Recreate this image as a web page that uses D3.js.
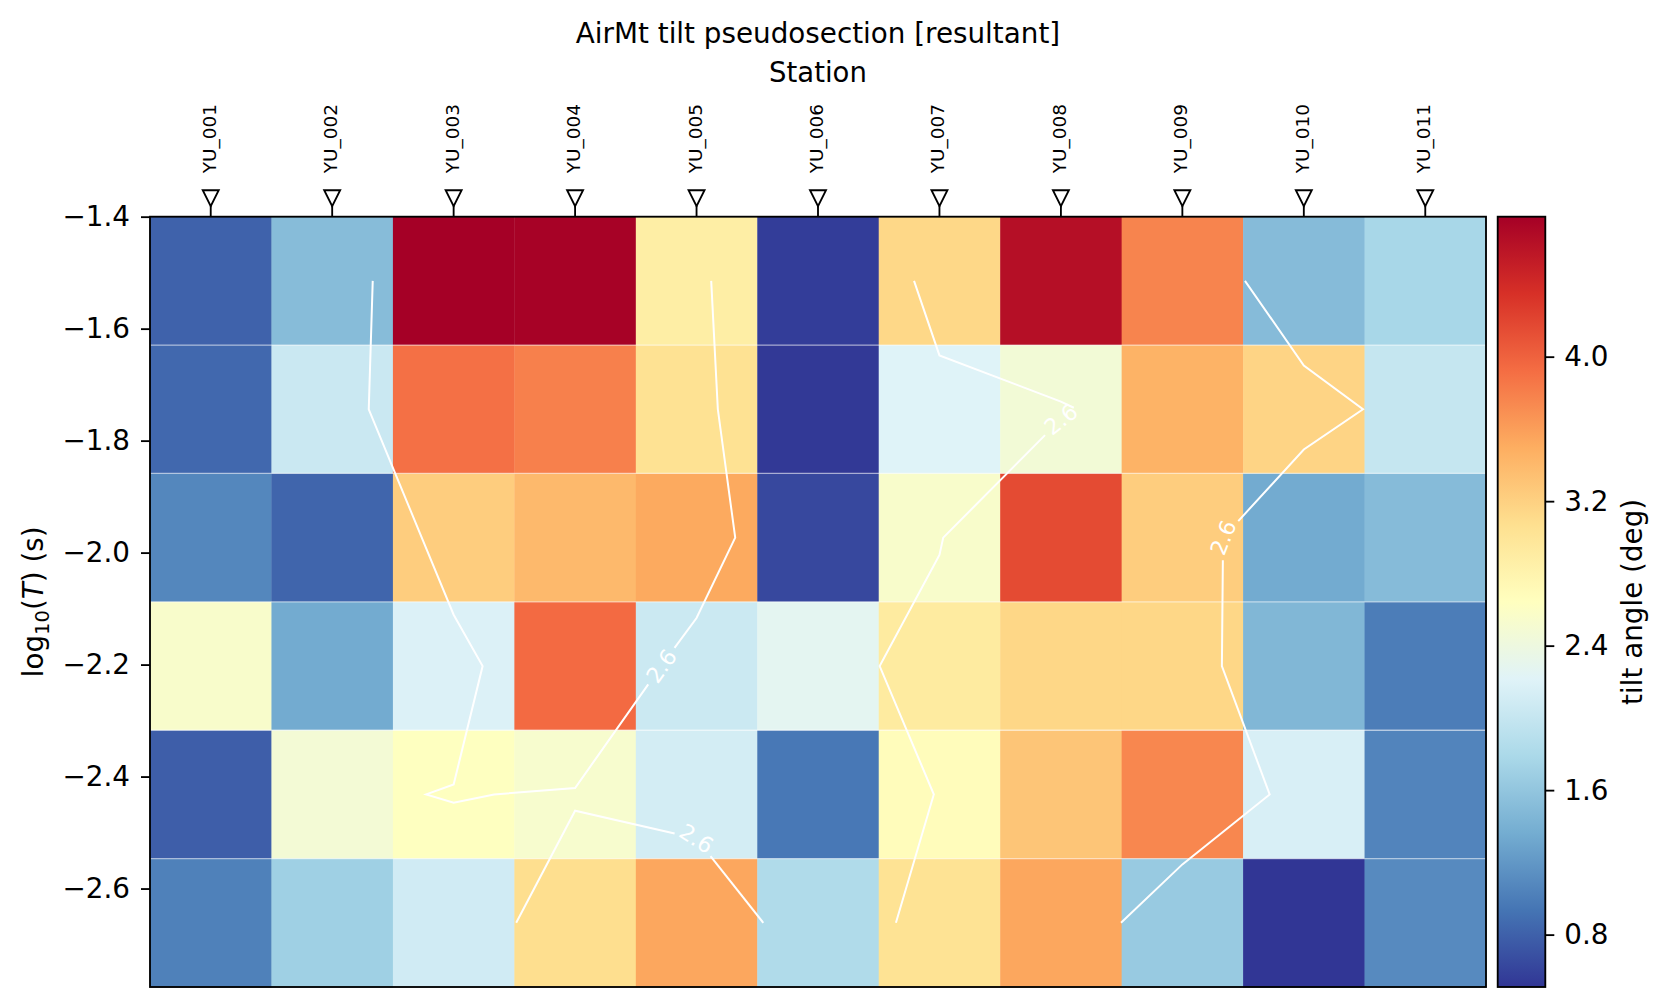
<!DOCTYPE html>
<html lang="en">
<head>
<meta charset="utf-8">
<title>AirMt tilt pseudosection</title>
<script src="https://cdn.jsdelivr.net/npm/d3@7"></script>
<style>
    body { margin: 0; background: #fff; }
    svg text { font-family: "DejaVu Sans", sans-serif; }
</style>
</head>
<body>
<div id="chart"></div>
<script>
    // stations along the profile
    const stations = ['YU_001', 'YU_002', 'YU_003', 'YU_004', 'YU_005', 'YU_006',
                      'YU_007', 'YU_008', 'YU_009', 'YU_010', 'YU_011'];

    // log10 of period at the centre of each row, top row first
    const logPeriod = [-1.5147, -1.7440, -1.9733, -2.2026, -2.4319, -2.6612];

    // tilt angle (deg), one array per period row, stations left to right
    const tilt_T1 = [0.81, 1.51, 4.775, 4.76, 2.88, 0.56, 3.14, 4.64, 3.77, 1.50, 1.77];
    const tilt_T2 = [0.85, 2.04, 3.90, 3.80, 3.04, 0.53, 2.21, 2.47, 3.45, 3.17, 2.00];
    const tilt_T3 = [1.07, 0.83, 3.23, 3.40, 3.52, 0.63, 2.55, 4.16, 3.23, 1.35, 1.50];
    const tilt_T4 = [2.55, 1.35, 2.18, 3.94, 2.05, 2.27, 2.92, 3.15, 3.15, 1.46, 1.00];
    const tilt_T5 = [0.78, 2.48, 2.635, 2.53, 2.11, 0.96, 2.68, 3.30, 3.75, 2.15, 1.05];
    const tilt_T6 = [1.03, 1.70, 2.09, 3.08, 3.54, 1.83, 3.03, 3.54, 1.64, 0.51, 1.10];
    const tiltRows = [tilt_T1, tilt_T2, tilt_T3, tilt_T4, tilt_T5, tilt_T6];

    const contourLevels = [2.6];
    const yTicks = [-1.4, -1.6, -1.8, -2.0, -2.2, -2.4, -2.6];
    const cbarTicks = [0.8, 1.6, 2.4, 3.2, 4.0];

    // RdYlBu reversed (blue -> red)
    const cmap = ['#313695', '#4575b4', '#74add1', '#abd9e9', '#e0f3f8', '#ffffbf',
                  '#fee090', '#fdae61', '#f46d43', '#d73027', '#a50026'];

    // figure layout
    const width = 1667, height = 1007;
    const margin = {top: 216.7, right: 181, bottom: 20, left: 150};
    const plotL = margin.left, plotR = width - margin.right;
    const plotT = margin.top, plotB = height - margin.bottom;
    const cbarL = 1497.7, cbarR = 1545.3;
    const tickFont = 27.8;

    const svg = d3.select("#chart")
        .append("svg")
            .attr("width", width)
            .attr("height", height);

    // scales
    const x = d3.scaleLinear()
        .domain([-0.5, stations.length - 0.5])
        .range([plotL, plotR]);

    const nr = logPeriod.length;
    const yTop = logPeriod[0] + (logPeriod[0] - logPeriod[1]) / 2;
    const yBot = logPeriod[nr - 1] - (logPeriod[nr - 2] - logPeriod[nr - 1]) / 2;
    const yEdges = [yTop];
    for (let j = 0; j < nr - 1; j++) yEdges.push((logPeriod[j] + logPeriod[j + 1]) / 2);
    yEdges.push(yBot);

    const y = d3.scaleLinear()
        .domain([yBot, yTop])
        .range([plotB, plotT]);

    const [vmin, vmax] = d3.extent(tiltRows.flat());
    const color = d3.scaleLinear()
        .domain(cmap.map((c, k) => vmin + k / (cmap.length - 1) * (vmax - vmin)))
        .range(cmap)
        .interpolate(d3.interpolateRgb);

    // pcolormesh cells
    const cells = [];
    tiltRows.forEach((row, j) => row.forEach((v, i) => cells.push({i, j, v})));

    svg.append("g")
        .selectAll("rect")
        .data(cells)
        .enter()
        .append("rect")
            .attr("x", d => x(d.i - 0.5))
            .attr("y", d => y(yEdges[d.j]))
            .attr("width", d => x(d.i + 0.5) - x(d.i - 0.5) + 0.4)
            .attr("height", d => y(yEdges[d.j + 1]) - y(yEdges[d.j]) + 0.4)
            .attr("fill", d => color(d.v));

    // faint lines between period rows
    svg.append("g")
        .selectAll("line")
        .data(yEdges.slice(1, -1))
        .enter()
        .append("line")
            .attr("x1", plotL).attr("x2", plotR)
            .attr("y1", d => y(d)).attr("y2", d => y(d))
            .attr("stroke", "#fff")
            .attr("stroke-opacity", 0.55)
            .attr("stroke-width", 1.3);

    // marching squares on the cell centres, lines oriented with high values on the right
    function contourLines(z, level) {
        const rows = z.length, cols = z[0].length;
        const edgePt = (kind, i, j) => {
            const v1 = z[j][i];
            const v2 = kind === 'h' ? z[j][i + 1] : z[j + 1][i];
            const t = (level - v1) / (v2 - v1);
            return kind === 'h' ? {key: 'h' + i + ',' + j, c: i + t, r: j}
                                : {key: 'v' + i + ',' + j, c: i, r: j + t};
        };
        const segs = [];
        for (let j = 0; j < rows - 1; j++) {
            for (let i = 0; i < cols - 1; i++) {
                const corner = [z[j][i], z[j][i + 1], z[j + 1][i + 1], z[j + 1][i]];
                const hi = corner.map(v => v > level);
                const edges = [['h', i, j], ['v', i + 1, j], ['h', i, j + 1], ['v', i, j]];
                const cross = [];
                for (let e = 0; e < 4; e++) {
                    const a = hi[e], b = hi[(e + 1) % 4];
                    if (a !== b) cross.push({e, type: a ? 'out' : 'in', p: edgePt(...edges[e])});
                }
                if (cross.length === 2) {
                    const o = cross.find(c => c.type === 'out'), n = cross.find(c => c.type === 'in');
                    segs.push({a: o.p, b: n.p});
                } else if (cross.length === 4) {
                    const mid = d3.mean(corner) > level;
                    cross.forEach((c, k) => {
                        if (c.type !== 'out') return;
                        const n = mid ? cross[(k + 1) % 4] : cross[(k + 3) % 4];
                        segs.push({a: c.p, b: n.p});
                    });
                }
            }
        }
        // chain the segments into paths
        const byStart = new Map(segs.map(s => [s.a.key, s]));
        const ends = new Set(segs.map(s => s.b.key));
        const used = new Set();
        const paths = [];
        const trace = s => {
            const pts = [s.a];
            let cur = s;
            while (cur && !used.has(cur)) {
                used.add(cur);
                pts.push(cur.b);
                cur = byStart.get(cur.b.key);
            }
            paths.push(pts);
        };
        segs.forEach(s => { if (!ends.has(s.a.key) && !used.has(s)) trace(s); });
        segs.forEach(s => { if (!used.has(s)) trace(s); });
        return paths;
    }

    const rowToLog = r => {
        const j0 = Math.min(Math.floor(r), nr - 2);
        return logPeriod[j0] + (r - j0) * (logPeriod[j0 + 1] - logPeriod[j0]);
    };

    // pick the straightest block of the path for the label
    function locateLabel(pts, lw) {
        const n = pts.length;
        const nBlocks = lw > 1 ? Math.ceil(n / lw) : 1;
        const bs = nBlocks === 1 ? n : Math.floor(lw);
        const hb = Math.floor(bs / 2);
        let best = hb % n, bestD = Infinity;
        for (let b = 0; b < nBlocks; b++) {
            const at = k => pts[(b * bs + k) % n];
            const f = at(0), l = at(bs - 1);
            const len = Math.hypot(l[0] - f[0], l[1] - f[1]);
            let dist = 0;
            for (let k = 0; k < bs; k++) {
                const p = at(k);
                dist += Math.abs((f[1] - p[1]) * (l[0] - f[0]) - (f[0] - p[0]) * (l[1] - f[1])) / len;
            }
            if (!isFinite(dist)) dist = Infinity;
            if (dist < bestD) { bestD = dist; best = (b * bs + hb) % n; }
        }
        return best;
    }

    function pointAt(pts, cum, s) {
        s = Math.max(0, Math.min(cum[cum.length - 1], s));
        let k = 1;
        while (k < cum.length - 1 && cum[k] < s) k++;
        const t = (s - cum[k - 1]) / ((cum[k] - cum[k - 1]) || 1);
        return [pts[k - 1][0] + t * (pts[k][0] - pts[k - 1][0]),
                pts[k - 1][1] + t * (pts[k][1] - pts[k - 1][1])];
    }

    function slicePath(pts, cum, s0, s1) {
        const out = [pointAt(pts, cum, s0)];
        for (let k = 0; k < pts.length; k++) if (cum[k] > s0 && cum[k] < s1) out.push(pts[k]);
        out.push(pointAt(pts, cum, s1));
        return out;
    }

    const labelFont = 22;
    const probe = svg.append("text").attr("font-size", labelFont).text("2.6");
    const contourG = svg.append("g");
    const line = d3.line();

    contourLevels.forEach(level => {
        const txt = d3.format(".1f")(level);
        probe.text(txt);
        const textW = probe.node().getComputedTextLength();
        const half = textW / 2 + 5;

        contourLines(tiltRows, level).forEach(path => {
            const pts = path.map(p => [x(p.c), y(rowToLog(p.r))]);
            const cum = [0];
            for (let k = 1; k < pts.length; k++)
                cum.push(cum[k - 1] + Math.hypot(pts[k][0] - pts[k - 1][0], pts[k][1] - pts[k - 1][1]));
            const total = cum[cum.length - 1];

            const idx = locateLabel(pts, 13);
            const s0 = cum[idx];
            const pA = pointAt(pts, cum, s0 - textW / 2), pB = pointAt(pts, cum, s0 + textW / 2);
            let ang = Math.atan2(pB[1] - pA[1], pB[0] - pA[0]) * 180 / Math.PI;
            if (ang > 90) ang -= 180;
            if (ang < -90) ang += 180;

            const pieces = [];
            if (s0 - half > 0) pieces.push(slicePath(pts, cum, 0, s0 - half));
            if (s0 + half < total) pieces.push(slicePath(pts, cum, s0 + half, total));

            contourG.selectAll(null)
                .data(pieces)
                .enter()
                .append("path")
                    .attr("d", line)
                    .attr("fill", "none")
                    .attr("stroke", "#fff")
                    .attr("stroke-width", 2)
                    .attr("stroke-linejoin", "miter");

            contourG.append("text")
                .attr("transform", `translate(${pts[idx][0]},${pts[idx][1]}) rotate(${ang})`)
                .attr("text-anchor", "middle")
                .attr("dy", "0.36em")
                .attr("font-size", labelFont)
                .attr("fill", "#fff")
                .text(txt);
        });
    });
    probe.remove();

    // plot frame
    svg.append("rect")
        .attr("x", plotL).attr("y", plotT)
        .attr("width", plotR - plotL).attr("height", plotB - plotT)
        .attr("fill", "none")
        .attr("stroke", "#000")
        .attr("stroke-width", 1.85);

    // y axis
    const yAxis = svg.append("g")
        .attr("transform", `translate(${plotL},0)`)
        .call(d3.axisLeft(y).tickValues(yTicks).tickSize(9).tickPadding(11).tickFormat(d3.format(".1f")));
    yAxis.select(".domain").remove();
    yAxis.selectAll(".tick line").attr("stroke-width", 1.85);
    yAxis.selectAll(".tick text").attr("font-size", tickFont).attr("font-family", "DejaVu Sans");

    // station markers and names along the top
    const st = svg.append("g")
        .selectAll("g")
        .data(stations)
        .enter()
        .append("g")
            .attr("transform", (d, i) => `translate(${x(i)},0)`);

    st.append("line")
        .attr("y1", plotT).attr("y2", plotT - 11)
        .attr("stroke", "#000").attr("stroke-width", 1.85);

    st.append("path")
        .attr("d", `M-8,${plotT - 26.5}L8,${plotT - 26.5}L0,${plotT - 10.5}Z`)
        .attr("fill", "#fff")
        .attr("stroke", "#000")
        .attr("stroke-width", 1.85)
        .attr("stroke-linejoin", "miter");

    st.append("text")
        .attr("transform", `translate(5,173.3) rotate(-90)`)
        .attr("font-size", 18.5)
        .text(d => d);

    // titles
    svg.append("text")
        .attr("x", (plotL + plotR) / 2).attr("y", 42.7)
        .attr("text-anchor", "middle")
        .attr("font-size", 27.8)
        .text("AirMt tilt pseudosection [resultant]");

    svg.append("text")
        .attr("x", (plotL + plotR) / 2).attr("y", 81.7)
        .attr("text-anchor", "middle")
        .attr("font-size", 27.5)
        .text("Station");

    // y label: log10(T) (s)
    const yl = svg.append("text")
        .attr("transform", `translate(43,${(plotT + plotB) / 2}) rotate(-90)`)
        .attr("text-anchor", "middle")
        .attr("font-size", tickFont);
    yl.append("tspan").text("log");
    yl.append("tspan").attr("dy", 6).attr("font-size", 19.5).text("10");
    yl.append("tspan").attr("dy", -6).text("(");
    yl.append("tspan").attr("font-style", "italic").text("T");
    yl.append("tspan").text(") (s)");

    // colorbar
    const grad = svg.append("defs").append("linearGradient")
        .attr("id", "cbar-grad")
        .attr("x1", 0).attr("y1", 1).attr("x2", 0).attr("y2", 0);
    grad.selectAll("stop")
        .data(cmap)
        .enter()
        .append("stop")
            .attr("offset", (d, k) => k / (cmap.length - 1))
            .attr("stop-color", d => d);

    const cy = d3.scaleLinear().domain([vmin, vmax]).range([plotB, plotT]);

    svg.append("rect")
        .attr("x", cbarL).attr("y", plotT)
        .attr("width", cbarR - cbarL).attr("height", plotB - plotT)
        .attr("fill", "url(#cbar-grad)")
        .attr("stroke", "#000")
        .attr("stroke-width", 1.85);

    const cAxis = svg.append("g")
        .attr("transform", `translate(${cbarR},0)`)
        .call(d3.axisRight(cy).tickValues(cbarTicks).tickSize(9).tickPadding(10).tickFormat(d3.format(".1f")));
    cAxis.select(".domain").remove();
    cAxis.selectAll(".tick line").attr("stroke-width", 1.85);
    cAxis.selectAll(".tick text").attr("font-size", tickFont).attr("font-family", "DejaVu Sans");

    svg.append("text")
        .attr("transform", `translate(1642,${(plotT + plotB) / 2}) rotate(-90)`)
        .attr("text-anchor", "middle")
        .attr("font-size", tickFont)
        .text("tilt angle (deg)");
</script>
</body>
</html>
